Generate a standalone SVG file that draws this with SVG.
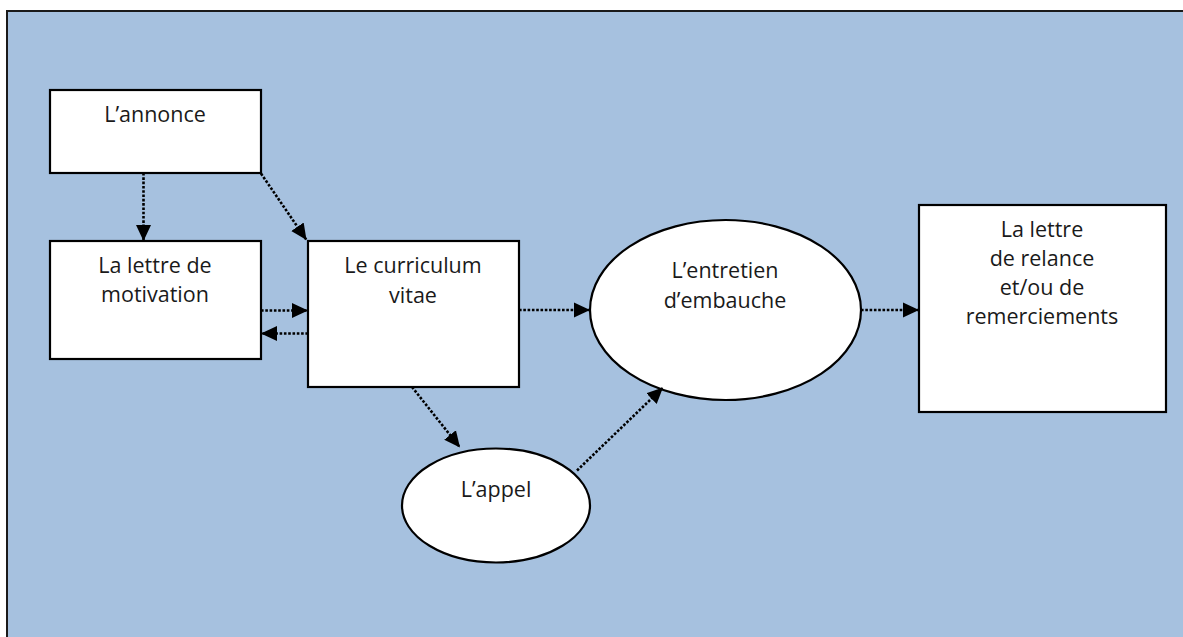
<svg xmlns="http://www.w3.org/2000/svg" width="1183" height="637" viewBox="0 0 1183 637">
  <style>
    .frame { fill: #A6C1DF; stroke: #1a1a1a; stroke-width: 2; }
    .node { fill: #ffffff; stroke: #000000; stroke-width: 2.2; }
    .label { font-family: "Open Sans", Lato, "Liberation Sans", sans-serif; font-size: 21.5px; fill: #1a1a1a; text-anchor: middle; font-variant-ligatures: none; }
    .conn { fill: none; stroke: #000000; stroke-width: 2.6; stroke-dasharray: 2.6 1.7; marker-end: url(#arrow); }
  </style>
  <defs>
    <marker id="arrow" markerUnits="userSpaceOnUse" markerWidth="18" markerHeight="18" viewBox="0 0 18 18" refX="16" refY="9" orient="auto">
      <path d="M0,1.5 L16,9 L0,16.5 Z" fill="#000000"/>
    </marker>
  </defs>
  <rect width="1183" height="637" fill="#ffffff"/>
  <rect class="frame" x="7" y="11" width="1190" height="640"/>

  <g id="n-annonce">
    <rect class="node" x="50" y="90" width="211" height="83"/>
    <text class="label" x="155" y="122">L’annonce</text>
  </g>
  <g id="n-motivation">
    <rect class="node" x="50" y="241" width="211" height="118"/>
    <text class="label" x="155" y="273">La lettre de</text>
    <text class="label" x="155" y="302">motivation</text>
  </g>
  <g id="n-cv">
    <rect class="node" x="308" y="241" width="211" height="146"/>
    <text class="label" x="413" y="273">Le curriculum</text>
    <text class="label" x="413" y="303">vitae</text>
  </g>
  <g id="n-entretien">
    <ellipse class="node" cx="725.5" cy="310" rx="135.5" ry="90"/>
    <text class="label" x="725" y="278">L’entretien</text>
    <text class="label" x="725" y="308">d’embauche</text>
  </g>
  <g id="n-relance">
    <rect class="node" x="919" y="205" width="247" height="207"/>
    <text class="label" x="1042" y="237">La lettre</text>
    <text class="label" x="1042" y="266">de relance</text>
    <text class="label" x="1042" y="295">et/ou de</text>
    <text class="label" x="1042" y="324">remerciements</text>
  </g>
  <g id="n-appel">
    <ellipse class="node" cx="496" cy="505.5" rx="94" ry="57"/>
    <text class="label" x="496" y="497">L’appel</text>
  </g>

  <g id="connectors">
    <line class="conn" x1="143.5" y1="173" x2="143.5" y2="241"/>
    <line class="conn" x1="261" y1="173.5" x2="306.5" y2="240"/>
    <line class="conn" x1="261" y1="310.5" x2="308" y2="310.5"/>
    <line class="conn" x1="308" y1="333.5" x2="261" y2="333.5"/>
    <line class="conn" x1="519" y1="310" x2="590" y2="310"/>
    <line class="conn" x1="861" y1="310" x2="919" y2="310"/>
    <line class="conn" x1="412" y1="387" x2="460" y2="447.5"/>
    <line class="conn" x1="577" y1="470.5" x2="663" y2="387.5"/>
  </g>
</svg>
